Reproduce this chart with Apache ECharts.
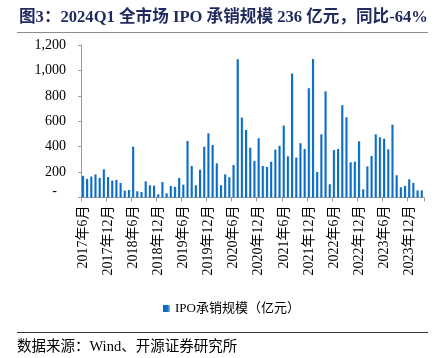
<!DOCTYPE html>
<html><head><meta charset="utf-8">
<script src="https://cdn.jsdelivr.net/npm/echarts@6/dist/echarts.min.js"></script>
<style>html,body{margin:0;padding:0;background:#fff}#c{width:440px;height:358px}</style>
</head><body><div id="c"></div>
<script>
const titleText = '图3：2024Q1 全市场 IPO 承销规模 236 亿元，同比-64%';
const sourceText = '数据来源：Wind、开源证券研究所';
const seriesName = 'IPO承销规模（亿元）';
const categories = [
 '2017年6月','2017年7月','2017年8月','2017年9月','2017年10月','2017年11月','2017年12月',
 '2018年1月','2018年2月','2018年3月','2018年4月','2018年5月','2018年6月','2018年7月','2018年8月','2018年9月','2018年10月','2018年11月','2018年12月',
 '2019年1月','2019年2月','2019年3月','2019年4月','2019年5月','2019年6月','2019年7月','2019年8月','2019年9月','2019年10月','2019年11月','2019年12月',
 '2020年1月','2020年2月','2020年3月','2020年4月','2020年5月','2020年6月','2020年7月','2020年8月','2020年9月','2020年10月','2020年11月','2020年12月',
 '2021年1月','2021年2月','2021年3月','2021年4月','2021年5月','2021年6月','2021年7月','2021年8月','2021年9月','2021年10月','2021年11月','2021年12月',
 '2022年1月','2022年2月','2022年3月','2022年4月','2022年5月','2022年6月','2022年7月','2022年8月','2022年9月','2022年10月','2022年11月','2022年12月',
 '2023年1月','2023年2月','2023年3月','2023年4月','2023年5月','2023年6月','2023年7月','2023年8月','2023年9月','2023年10月','2023年11月','2023年12月',
 '2024年1月','2024年2月','2024年3月'
];
const ipoValues = [
 170,146,165,182,154,222,161,
 133,138,114,54,59,400,49,43,127,96,93,25,
 122,33,91,84,153,101,445,248,96,219,400,505,
 413,269,96,182,159,256,1088,629,531,392,288,466,
 248,240,282,377,406,566,324,975,314,427,382,860,
 1090,201,497,835,104,373,382,726,631,277,282,442,
 64,245,327,497,474,463,379,573,175,80,91,143,
 115,56,56
];
const yTicks = [0,200,400,600,800,1000,1200];

const serif = '"Liberation Serif","Noto Sans CJK SC",serif';
const chart = echarts.init(document.getElementById('c'), null, {renderer:'canvas'});
chart.setOption({
  animation:false,
  backgroundColor:'#fff',
  grid:{left:81,right:16,top:45,bottom:160.5,containLabel:false},
  legend:{
    data:[seriesName], left:158, top:297, icon:'rect', itemWidth:7, itemHeight:7, itemGap:4,
    textStyle:{fontFamily:serif,fontSize:13,color:'#000'}
  },
  xAxis:{
    type:'category', data:categories, boundaryGap:true,
    axisLine:{lineStyle:{color:'#9a9a9a',width:1}},
    axisTick:{show:true,interval:5,length:4,lineStyle:{color:'#9a9a9a'}},
    axisLabel:{interval:5,rotate:90,margin:8,fontFamily:serif,fontSize:14,color:'#000'}
  },
  yAxis:{
    type:'value', min:yTicks[0], max:yTicks[yTicks.length-1], interval:200,
    splitLine:{show:false},
    axisLine:{show:true,lineStyle:{color:'#9a9a9a'}},
    axisTick:{show:true,length:3,lineStyle:{color:'#9a9a9a'}},
    axisLabel:{margin:15,fontFamily:serif,fontSize:14,color:'#000',
      formatter:function(v){ return v===0 ? '{d|-}' : v.toLocaleString('en-US'); },
      rich:{d:{fontFamily:serif,fontSize:14,color:'#000',padding:[0,9,12,0]}}}
  },
  series:[{
    name:seriesName, type:'bar', data:ipoValues, barWidth:2.4,
    itemStyle:{color:new echarts.graphic.LinearGradient(0,0,1,0,[
      {offset:0,color:'#0A6CC4'},{offset:0.6,color:'#0A6CC4'},{offset:1,color:'#8EBDE8'}])}
  }],
  graphic:[
    {type:'text',left:19,top:9,style:{text:titleText,font:'bold 16.6px '+serif,fill:'#1F2A5E'}},
    {type:'line',shape:{x1:17,y1:32.5,x2:428,y2:32.5},style:{stroke:'#8c8c8c',lineWidth:1}},
    {type:'line',shape:{x1:17,y1:332.5,x2:428,y2:332.5},style:{stroke:'#333',lineWidth:1}},
    {type:'text',left:17,top:340,style:{text:sourceText,font:'14.5px '+serif,fill:'#000'}}
  ]
});
</script></body></html>
